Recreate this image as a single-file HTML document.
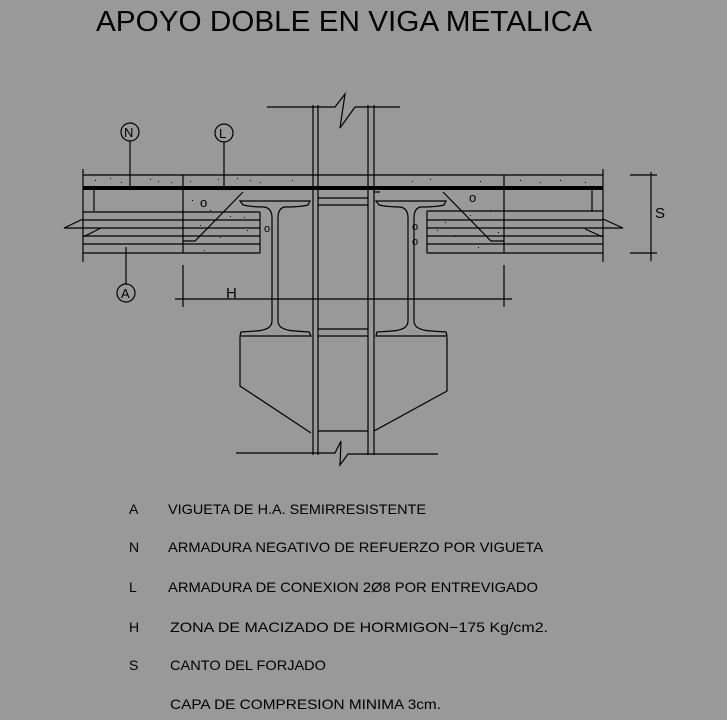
<!DOCTYPE html>
<html><head><meta charset="utf-8"><style>
html,body{margin:0;padding:0;background:#999999;}
svg{display:block;}
text{font-family:"Liberation Sans",sans-serif;fill:#000;}
</style></head><body>
<svg width="727" height="720" viewBox="0 0 727 720" xmlns="http://www.w3.org/2000/svg">
<rect width="727" height="720" fill="#999999"/>
<text x="96" y="31" font-size="29" textLength="496" lengthAdjust="spacingAndGlyphs">APOYO  DOBLE  EN  VIGA  METALICA</text>
<g stroke="#000" stroke-width="1.2" fill="none">
<!-- columns -->
<line x1="313" y1="105" x2="313" y2="455"/><line x1="318" y1="105" x2="318" y2="455"/>
<line x1="368" y1="105" x2="368" y2="455"/><line x1="374" y1="105" x2="374" y2="455"/>
<!-- top break -->
<polyline points="267,107 335,107 345,94 340,128 355,107 400,107"/>
<!-- bottom break -->
<polyline points="236,453 335,453 341,441 340,465 348,454 438,454"/>
<!-- slab -->
<line x1="83" y1="175" x2="603" y2="175"/>
<line x1="83" y1="169" x2="83" y2="262"/><line x1="603" y1="169" x2="603" y2="262"/>
<line x1="183" y1="175" x2="183" y2="253"/><line x1="504" y1="175" x2="504" y2="253"/>
<line x1="94" y1="190" x2="94" y2="211"/><line x1="592" y1="190" x2="592" y2="211"/>
<!-- left vigueta -->
<line x1="83" y1="212" x2="260" y2="212"/>
<line x1="83" y1="220" x2="260" y2="220"/>
<polyline points="83,219 64,228 260,228"/>
<polyline points="83,237 101,228"/>
<line x1="83" y1="236" x2="260" y2="236"/>
<line x1="83" y1="244" x2="260" y2="244"/>
<line x1="83" y1="253" x2="260" y2="253"/>
<line x1="260" y1="212" x2="260" y2="253"/>
<!-- right vigueta -->
<line x1="427" y1="211" x2="603" y2="211"/>
<line x1="427" y1="220" x2="603" y2="220"/>
<polyline points="603,219 623,228 427,228"/>
<polyline points="585,229 603,237"/>
<line x1="427" y1="236" x2="603" y2="236"/>
<line x1="427" y1="244" x2="603" y2="244"/>
<line x1="427" y1="253" x2="603" y2="253"/>
<line x1="427" y1="211" x2="427" y2="253"/>
<!-- rebars L -->
<polyline points="243,192 195,241 183,241"/>
<polyline points="443,192 491,241 504,241"/>
<!-- between columns -->
<line x1="318" y1="198" x2="368" y2="198"/><line x1="318" y1="205" x2="368" y2="205"/>
<line x1="318" y1="329" x2="368" y2="329"/><line x1="318" y1="336" x2="368" y2="336"/>
<line x1="318" y1="431" x2="368" y2="431"/>
<line x1="374" y1="192" x2="380" y2="192"/>
<!-- left I beam -->
<path d="M240,201 L310,201 L308,205 Q300,207 285,207 Q278,208 278,218 L278,321 Q278,330 295,331 L309,332 L311,336 L240,336 L241,332 L256,331 Q272,330 272,321 L272,218 Q272,208 264,207 Q252,207 243,205 Z"/>
<!-- right I beam -->
<path d="M376,201 L446,201 L444,205 Q436,207 421,207 Q414,208 414,218 L414,321 Q414,330 431,331 L446,332 L447,336 L376,336 L377,332 L392,331 Q408,330 408,321 L408,218 Q408,208 400,207 Q388,207 379,205 Z"/>
<!-- lower block -->
<polyline points="240,337 240,386 311,433"/>
<polyline points="447,337 447,391 374,431"/>
<!-- labels -->
<circle cx="130" cy="132" r="9"/><line x1="130" y1="141" x2="130" y2="187"/>
<circle cx="224" cy="133" r="9"/><line x1="224" y1="142" x2="224" y2="187"/>
<circle cx="126" cy="293" r="9"/><line x1="126" y1="284" x2="126" y2="247"/>
<!-- H dim -->
<line x1="175" y1="299" x2="512" y2="299"/>
<line x1="183" y1="265" x2="183" y2="307"/><line x1="504" y1="265" x2="504" y2="307"/>
<!-- S dim -->
<line x1="651" y1="172" x2="651" y2="261"/>
<line x1="630" y1="175" x2="657" y2="175"/><line x1="630" y1="253" x2="657" y2="253"/>
</g>
<rect x="83" y="186" width="520" height="4" fill="#000"/>
<g fill="#000">
<rect x="95" y="180" width="1" height="1"/><rect x="110" y="178" width="1" height="1"/><rect x="121" y="182" width="1" height="1"/>
<rect x="150" y="179" width="1" height="1"/><rect x="158" y="181" width="1" height="1"/><rect x="171" y="182" width="1" height="1"/>
<rect x="190" y="181" width="1" height="1"/><rect x="218" y="179" width="1" height="1"/><rect x="237" y="178" width="1" height="1"/>
<rect x="250" y="180" width="1" height="1"/><rect x="260" y="182" width="1" height="1"/><rect x="292" y="180" width="1" height="1"/>
<rect x="412" y="181" width="1" height="1"/><rect x="430" y="179" width="1" height="1"/><rect x="480" y="181" width="1" height="1"/>
<rect x="520" y="180" width="1" height="1"/><rect x="540" y="182" width="1" height="1"/><rect x="560" y="180" width="1" height="1"/><rect x="585" y="182" width="1" height="1"/>
<rect x="192" y="200" width="1" height="1"/><rect x="210" y="210" width="1" height="1"/><rect x="200" y="225" width="1" height="1"/>
<rect x="230" y="216" width="1" height="1"/><rect x="247" y="230" width="1" height="1"/><rect x="220" y="237" width="1" height="1"/>
<rect x="204" y="250" width="1" height="1"/><rect x="244" y="217" width="1" height="1"/>
<rect x="490" y="210" width="1" height="1"/><rect x="470" y="215" width="1" height="1"/><rect x="445" y="222" width="1" height="1"/>
<rect x="437" y="230" width="1" height="1"/><rect x="455" y="236" width="1" height="1"/><rect x="498" y="232" width="1" height="1"/><rect x="478" y="247" width="1" height="1"/>
</g>
<g font-size="13">
<text x="200" y="207">o</text><text x="264" y="232" font-size="11">o</text>
<text x="469" y="202">o</text><text x="412" y="230" font-size="11">o</text><text x="412" y="245" font-size="11">o</text>
</g>
<text x="124" y="137" font-size="13" font-family="Liberation Serif">N</text>
<text x="219" y="138" font-size="13" font-family="Liberation Serif">L</text>
<text x="121" y="298" font-size="13" font-family="Liberation Serif">A</text>
<text x="226" y="298" font-size="15" font-family="Liberation Serif">H</text>
<text x="655" y="218" font-size="15">S</text>
<g font-size="14">
<text x="129" y="514">A</text><text x="168" y="514" textLength="258" lengthAdjust="spacingAndGlyphs">VIGUETA  DE  H.A.  SEMIRRESISTENTE</text>
<text x="129" y="552">N</text><text x="168" y="552" textLength="375" lengthAdjust="spacingAndGlyphs">ARMADURA  NEGATIVO  DE  REFUERZO  POR  VIGUETA</text>
<text x="129" y="592">L</text><text x="168" y="592" textLength="370" lengthAdjust="spacingAndGlyphs">ARMADURA  DE  CONEXION  2Ø8  POR  ENTREVIGADO</text>
<text x="129" y="632">H</text><text x="170" y="632" textLength="378" lengthAdjust="spacingAndGlyphs">ZONA  DE  MACIZADO  DE  HORMIGON−175  Kg/cm2.</text>
<text x="129" y="670">S</text><text x="170" y="670" textLength="156" lengthAdjust="spacingAndGlyphs">CANTO  DEL  FORJADO</text>
<text x="170" y="709" textLength="271" lengthAdjust="spacingAndGlyphs">CAPA  DE  COMPRESION  MINIMA  3cm.</text>
</g>
</svg>
</body></html>
